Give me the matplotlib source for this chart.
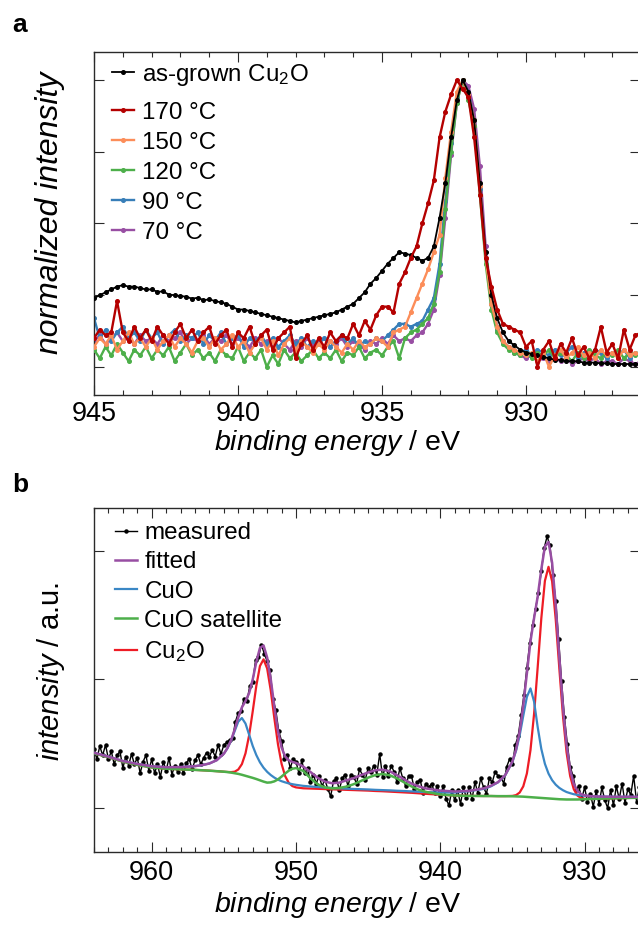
import numpy as np
import matplotlib
matplotlib.use("Agg")
import matplotlib.pyplot as plt
from matplotlib.ticker import MultipleLocator

plt.rcParams['font.family'] = ['Liberation Sans', 'DejaVu Sans']
plt.rcParams['mathtext.fontset'] = 'custom'
plt.rcParams['mathtext.rm'] = 'Liberation Sans'
plt.rcParams['mathtext.it'] = 'Liberation Sans:italic'
plt.rcParams['mathtext.bf'] = 'Liberation Sans:bold'

# ---------------- panel a data (normalized Cu 2p3/2), 945.0 eV downwards, 0.2 eV step
a_start = 945.0
a_step = 0.2
as_grown = [
    0.24, 0.25, 0.26, 0.27, 0.28, 0.285, 0.28, 0.28, 0.275, 0.27,
    0.27, 0.262, 0.263, 0.252, 0.25, 0.247, 0.245, 0.238, 0.241, 0.233,
    0.235, 0.23, 0.225, 0.22, 0.21, 0.20, 0.20, 0.195, 0.19, 0.185,
    0.18, 0.175, 0.17, 0.165, 0.16, 0.155, 0.16, 0.165, 0.17, 0.175,
    0.18, 0.185, 0.19, 0.20, 0.21, 0.22, 0.24, 0.26, 0.29, 0.31,
    0.335, 0.36, 0.38, 0.40, 0.395, 0.39, 0.38, 0.37, 0.38, 0.42,
    0.52, 0.64, 0.80, 0.93, 1.0, 0.96, 0.86, 0.64, 0.40, 0.25,
    0.17, 0.12, 0.09, 0.075, 0.06, 0.05, 0.045, 0.04, 0.035, 0.03,
    0.025, 0.025, 0.02, 0.02, 0.02, 0.015, 0.015, 0.015, 0.012, 0.012,
    0.01, 0.01, 0.01, 0.01, 0.01, 0.01]
t170 = [
    0.10, 0.13, 0.11, 0.12, 0.23, 0.12, 0.09, 0.14, 0.10, 0.13,
    0.09, 0.14, 0.11, 0.08, 0.12, 0.15, 0.10, 0.13, 0.09, 0.12,
    0.14, 0.08, 0.11, 0.13, 0.07, 0.12, 0.10, 0.14, 0.08, 0.11,
    0.13, 0.06, 0.10, 0.12, 0.14, 0.03, 0.08, 0.11, 0.06, 0.10,
    0.07, 0.12, 0.09, 0.11, 0.10, 0.15, 0.11, 0.16, 0.13, 0.18,
    0.21, 0.21, 0.19, 0.29, 0.33, 0.38, 0.42, 0.50, 0.57, 0.65,
    0.80, 0.89, 0.95, 1.0, 0.97, 0.94, 0.80, 0.60, 0.38, 0.28,
    0.20, 0.15, 0.14, 0.13, 0.12, 0.07, 0.09, 0.00, 0.06, 0.09,
    0.03, 0.08, 0.05, 0.10, 0.04, 0.07, 0.03, 0.06, 0.14, 0.05,
    0.08, 0.03, 0.13, 0.06, 0.11, 0.12]
t150 = [
    0.07, 0.10, 0.08, 0.11, 0.06, 0.09, 0.12, 0.08, 0.10, 0.07,
    0.10, 0.06, 0.09, 0.11, 0.07, 0.10, 0.08, 0.05, 0.09, 0.10,
    0.07, 0.10, 0.06, 0.08, 0.11, 0.07, 0.09, 0.05, 0.08, 0.10,
    0.06, 0.09, 0.04, 0.08, 0.10, 0.06, 0.09, 0.07, 0.05, 0.08,
    0.06, 0.09, 0.07, 0.05, 0.08, 0.06, 0.09, 0.07, 0.08, 0.10,
    0.09, 0.07, 0.12, 0.13, 0.14, 0.19, 0.24, 0.29, 0.34, 0.40,
    0.46, 0.66, 0.82, 0.96, 1.0, 0.95, 0.86, 0.63, 0.38, 0.22,
    0.14, 0.09, 0.07, 0.06, 0.05, 0.04, 0.05, 0.02, 0.05, 0.00,
    0.04, 0.06, 0.03, 0.05, 0.07, 0.04, 0.05, 0.03, 0.06, 0.04,
    0.05, 0.03, 0.06, 0.04, 0.05, 0.04]
t120 = [
    0.06, 0.03, 0.07, 0.04, 0.08, 0.05, 0.02, 0.06, 0.04, 0.07,
    0.03, 0.06, 0.04, 0.07, 0.02, 0.05, 0.08, 0.04, 0.06, 0.03,
    0.05, 0.02, 0.06, 0.04, 0.03, 0.07, 0.02, 0.05, 0.03, 0.06,
    0.00, 0.04, 0.01, 0.06, 0.03, 0.05, 0.02, 0.04, 0.06, 0.03,
    0.05, 0.03, 0.06, 0.02, 0.05, 0.04, 0.07, 0.03, 0.05, 0.06,
    0.04, 0.07, 0.09, 0.03, 0.10, 0.12, 0.13, 0.15, 0.17, 0.22,
    0.33, 0.55, 0.75, 0.92, 1.0, 0.93, 0.84, 0.60, 0.36, 0.20,
    0.12, 0.08, 0.06, 0.05, 0.04, 0.05, 0.03, 0.05, 0.04, 0.06,
    0.03, 0.05, 0.04, 0.02, 0.05, 0.03, 0.06, 0.04, 0.03, 0.05,
    0.04, 0.06, 0.03, 0.05, 0.04, 0.06]
t90 = [
    0.17, 0.10, 0.13, 0.09, 0.12, 0.14, 0.10, 0.12, 0.09, 0.13,
    0.10, 0.12, 0.08, 0.11, 0.13, 0.09, 0.11, 0.10, 0.12, 0.08,
    0.11, 0.09, 0.12, 0.08, 0.10, 0.11, 0.07, 0.10, 0.09, 0.11,
    0.08, 0.10, 0.07, 0.09, 0.11, 0.08, 0.10, 0.07, 0.09, 0.08,
    0.10, 0.07, 0.09, 0.11, 0.08, 0.10, 0.07, 0.09, 0.08, 0.10,
    0.09, 0.11, 0.13, 0.15, 0.15, 0.14, 0.15, 0.16, 0.20, 0.24,
    0.36, 0.58, 0.78, 0.94, 1.0, 0.96, 0.86, 0.62, 0.38, 0.22,
    0.13, 0.09, 0.07, 0.06, 0.05, 0.06, 0.04, 0.06, 0.05, 0.04,
    0.06, 0.04, 0.05, 0.07, 0.03, 0.05, 0.04, 0.06, 0.05, 0.03,
    0.05, 0.04, 0.06, 0.03, 0.05, 0.04]
t70 = [
    0.09, 0.11, 0.08, 0.10, 0.12, 0.09, 0.10, 0.08, 0.11, 0.09,
    0.10, 0.08, 0.11, 0.09, 0.10, 0.12, 0.08, 0.10, 0.09, 0.11,
    0.08, 0.10, 0.09, 0.11, 0.08, 0.10, 0.09, 0.07, 0.10, 0.08,
    0.09, 0.07, 0.10, 0.08, 0.06, 0.09, 0.07, 0.10, 0.08, 0.09,
    0.07, 0.09, 0.08, 0.10, 0.07, 0.09, 0.08, 0.06, 0.09, 0.08,
    0.10, 0.08, 0.11, 0.09, 0.10, 0.09, 0.11, 0.12, 0.15, 0.20,
    0.32, 0.52, 0.74, 0.92, 1.0, 0.98, 0.90, 0.70, 0.42, 0.24,
    0.14, 0.09, 0.07, 0.05, 0.04, 0.03, 0.04, 0.02, 0.03, 0.02,
    0.03, 0.02, 0.03, 0.01, 0.02, 0.03, 0.02, 0.03, 0.01, 0.02,
    0.02, 0.01, 0.03, 0.02, 0.01, 0.02]

a_labels = ['as-grown Cu$_2$O', '170 °C', '150 °C', '120 °C', '90 °C', '70 °C']
a_colors = ['#000000', '#b40000', '#fc8d59', '#4daf4a', '#377eb8', '#984ea3']

# ---------------- panel b data (Cu 2p), measured: 964.0 eV downwards, 0.2 eV step
b_start = 964.0
b_step = 0.2
measured = [
    0.46, 0.38, 0.48, 0.41, 0.49, 0.38, 0.44, 0.34, 0.41, 0.44,
    0.31, 0.40, 0.33, 0.42, 0.34, 0.39, 0.27, 0.36, 0.41, 0.29,
    0.38, 0.27, 0.34, 0.24, 0.36, 0.29, 0.39, 0.26, 0.33, 0.28,
    0.34, 0.27, 0.35, 0.38, 0.30, 0.37, 0.41, 0.34, 0.39, 0.43,
    0.40, 0.45, 0.40, 0.49, 0.42, 0.49, 0.51, 0.53, 0.54, 0.67,
    0.74, 0.75, 0.85, 0.83, 0.95, 0.98, 1.15, 1.17, 1.27, 1.20,
    1.14, 1.07, 0.85, 0.76, 0.60, 0.52, 0.38, 0.41, 0.31, 0.38,
    0.36, 0.27, 0.37, 0.27, 0.31, 0.20, 0.26, 0.19, 0.25, 0.17,
    0.22, 0.15, 0.09, 0.21, 0.23, 0.14, 0.23, 0.26, 0.17, 0.26,
    0.24, 0.19, 0.30, 0.26, 0.22, 0.31, 0.28, 0.33, 0.26, 0.42,
    0.24, 0.33, 0.25, 0.33, 0.28, 0.20, 0.31, 0.23, 0.17, 0.25,
    0.25, 0.15, 0.20, 0.22, 0.12, 0.19, 0.16, 0.19, 0.12, 0.17,
    0.09, 0.17, 0.07, 0.02, 0.14, 0.06, 0.14, 0.03, 0.16, 0.08,
    0.16, 0.07, 0.20, 0.12, 0.23, 0.16, 0.11, 0.23, 0.20, 0.28,
    0.25, 0.24, 0.19, 0.32, 0.38, 0.34, 0.49, 0.56, 0.72, 0.88,
    1.09, 1.28, 1.42, 1.55, 1.67, 1.84, 2.02, 2.11, 2.04, 1.81,
    1.61, 1.31, 0.99, 0.71, 0.50, 0.32, 0.25, 0.14, 0.17, 0.07,
    0.16, 0.05, 0.11, 0.01, 0.13, 0.03, 0.16, 0.06, 0.00, 0.14,
    0.02, 0.17, 0.07, 0.19, 0.04, 0.15, 0.10, 0.25, 0.05, 0.16]

fit_energy = [
    964, 963, 962, 961, 960, 959, 958, 957,
    956.5, 956, 955.5, 955, 954.75, 954.5, 954.25,
    954, 953.75, 953.5, 953.25, 953, 952.75, 952.5, 952.25,
    952, 951.75, 951.5, 951.25, 951, 950.75, 950.5, 950.25,
    950, 949.5, 949, 948.5, 948, 947.5, 947, 946.5,
    946, 945.5, 945, 944.5, 944, 943.5, 943, 942.5,
    942, 941.5, 941, 940, 939, 938, 937, 936.5,
    936, 935.5, 935, 934.75, 934.5, 934.25,
    934, 933.75, 933.5, 933.25, 933, 932.75, 932.5, 932.25,
    932, 931.75, 931.5, 931.25, 931, 930.75, 930.5, 930.25,
    930, 929.5, 929, 928, 927, 926]
fitted = [
    0.429, 0.399, 0.365, 0.342, 0.324, 0.317, 0.318, 0.325,
    0.333, 0.346, 0.371, 0.422, 0.466, 0.527, 0.61,
    0.705, 0.782, 0.831, 0.892, 0.999, 1.136, 1.243, 1.263,
    1.169, 1.0, 0.787, 0.60, 0.47, 0.40, 0.37, 0.358,
    0.35, 0.322, 0.28, 0.235, 0.205, 0.192, 0.197, 0.215,
    0.232, 0.255, 0.276, 0.293, 0.298, 0.285, 0.255, 0.222,
    0.19, 0.168, 0.152, 0.135, 0.128, 0.133, 0.152, 0.172,
    0.201, 0.256, 0.362, 0.455, 0.595, 0.796,
    1.045, 1.295, 1.476, 1.643, 1.854, 2.032, 2.067, 1.905,
    1.576, 1.171, 0.788, 0.49, 0.297, 0.187, 0.133, 0.108,
    0.098, 0.091, 0.089, 0.087, 0.087, 0.086]
cuo = [
    0.429, 0.399, 0.365, 0.342, 0.324, 0.317, 0.318, 0.325,
    0.333, 0.346, 0.371, 0.422, 0.465, 0.523, 0.598,
    0.671, 0.699, 0.656, 0.570, 0.482, 0.411, 0.355, 0.313,
    0.281, 0.256, 0.236, 0.22, 0.208, 0.199, 0.191, 0.185,
    0.18, 0.172, 0.167, 0.163, 0.159, 0.156, 0.153, 0.15,
    0.148, 0.146, 0.144, 0.141, 0.139, 0.137, 0.134, 0.132,
    0.129, 0.126, 0.124, 0.12, 0.12, 0.131, 0.148, 0.168,
    0.199, 0.254, 0.359, 0.445, 0.564, 0.716,
    0.863, 0.929, 0.826, 0.628, 0.459, 0.343, 0.267, 0.216,
    0.181, 0.156, 0.138, 0.124, 0.115, 0.107, 0.102, 0.098,
    0.095, 0.091, 0.089, 0.087, 0.087, 0.086]
cuo_sat = [
    0.425, 0.395, 0.36, 0.335, 0.315, 0.305, 0.30, 0.296,
    0.293, 0.29, 0.286, 0.282, 0.279, 0.275, 0.27,
    0.265, 0.258, 0.25, 0.242, 0.234, 0.225, 0.215, 0.205,
    0.197, 0.199, 0.207, 0.222, 0.244, 0.268, 0.29, 0.305,
    0.31, 0.288, 0.231, 0.184, 0.16, 0.152, 0.156, 0.166,
    0.185, 0.21, 0.236, 0.256, 0.264, 0.254, 0.230, 0.199,
    0.168, 0.142, 0.125, 0.105, 0.097, 0.094, 0.093, 0.093,
    0.092, 0.092, 0.091, 0.09, 0.089, 0.088,
    0.086, 0.084, 0.082, 0.08, 0.078, 0.076, 0.074, 0.072,
    0.07, 0.068, 0.067, 0.066, 0.066, 0.066, 0.066, 0.067,
    0.068, 0.07, 0.072, 0.075, 0.078, 0.08]
cu2o = [
    0.425, 0.395, 0.36, 0.335, 0.315, 0.305, 0.30, 0.296,
    0.293, 0.29, 0.286, 0.282, 0.28, 0.279, 0.282,
    0.299, 0.341, 0.425, 0.564, 0.751, 0.95, 1.103, 1.155,
    1.084, 0.913, 0.697, 0.495, 0.343, 0.247, 0.195, 0.17,
    0.16, 0.153, 0.151, 0.149, 0.147, 0.145, 0.143, 0.141,
    0.139, 0.137, 0.135, 0.132, 0.13, 0.127, 0.124, 0.121,
    0.118, 0.114, 0.11, 0.103, 0.097, 0.094, 0.093, 0.093,
    0.092, 0.092, 0.094, 0.10, 0.12, 0.168,
    0.268, 0.45, 0.732, 1.095, 1.473, 1.765, 1.874, 1.761,
    1.465, 1.083, 0.717, 0.432, 0.248, 0.146, 0.097, 0.077,
    0.071, 0.07, 0.072, 0.075, 0.078, 0.08]

b_labels = ['measured', 'fitted', 'CuO', 'CuO satellite', 'Cu$_2$O']
b_colors = ['#000000', '#984ea3', '#3a87c5', '#4daf4a', '#ee1c25']

# ---------------- figure
W, H = 638, 926
fig = plt.figure(figsize=(W / 100, H / 100), dpi=100)
axa = fig.add_axes([94 / W, 1 - 395 / H, 546 / W, 343 / H])
axb = fig.add_axes([94 / W, 1 - 852 / H, 546 / W, 344 / H])

spine_col = '#2a2a2a'
for ax in (axa, axb):
    for s in ax.spines.values():
        s.set_linewidth(1.0)
        s.set_color(spine_col)
    ax.tick_params(axis='both', which='both', direction='in', top=True, right=True,
                   labelleft=False, color=spine_col, width=0.8)
    ax.tick_params(axis='both', which='major', length=7)
    ax.tick_params(axis='both', which='minor', length=3.5)
    ax.tick_params(axis='x', labelsize=19.5)

# panel a
series_a = [as_grown, t170, t150, t120, t90, t70]
zorders = [5, 6, 4, 3, 2, 1]
handles = []
for vals, lab, col, z in zip(series_a, a_labels, a_colors, zorders):
    e = a_start - a_step * np.arange(len(vals))
    lw = 1.3 if col == '#000000' else 1.7
    h, = axa.plot(e, vals, '-', color=col, lw=lw, marker='o', ms=2.6, mec=col, mfc=col,
                  label=lab, zorder=z)
    handles.append(h)
axa.set_xlim(945, 926.04)
axa.set_ylim(-0.098, 1.098)
axa.xaxis.set_major_locator(MultipleLocator(5))
axa.xaxis.set_minor_locator(MultipleLocator(1))
axa.yaxis.set_major_locator(MultipleLocator(0.25))
axa.tick_params(axis='x', pad=4)
axa.set_xlabel(r'$\it{binding\ energy}$ / eV', fontsize=20.5)
axa.xaxis.set_label_coords(0.446, -0.096)
axa.xaxis.label.set_va('top')
axa.set_ylabel('normalized intensity', fontsize=23, style='italic')
axa.yaxis.set_label_coords(-0.054, 0.53)
leg_kw = dict(loc='upper left', frameon=False, borderpad=0, borderaxespad=0,
              handlelength=0.93, handletextpad=0.3)
leg1 = axa.legend(handles=handles[:1], bbox_to_anchor=(0.033, 0.971),
                  labelspacing=0.25, fontsize=17.4, **leg_kw)
axa.add_artist(leg1)
axa.legend(handles=handles[1:], bbox_to_anchor=(0.033, 0.855),
           labelspacing=0.33, fontsize=17.4, **leg_kw)

# panel b
e_meas = b_start - b_step * np.arange(len(measured))
hm, = axb.plot(e_meas, measured, '-', color='k', lw=1.0, marker='o', ms=2.2, zorder=1)
hr, = axb.plot(fit_energy, cu2o, '-', color=b_colors[4], lw=1.6, zorder=2)
hb, = axb.plot(fit_energy, cuo, '-', color=b_colors[2], lw=1.6, zorder=3)
hg, = axb.plot(fit_energy, cuo_sat, '-', color=b_colors[3], lw=1.8, zorder=4)
hp, = axb.plot(fit_energy, fitted, '-', color=b_colors[1], lw=1.8, zorder=5)
axb.set_xlim(964, 926.16)
axb.set_ylim(-0.342, 2.331)
axb.xaxis.set_major_locator(MultipleLocator(10))
axb.xaxis.set_minor_locator(MultipleLocator(1))
axb.yaxis.set_major_locator(MultipleLocator(1))
axb.tick_params(axis='x', pad=6)
axb.set_xlabel(r'$\it{binding\ energy}$ / eV', fontsize=20.5)
axb.xaxis.set_label_coords(0.446, -0.11)
axb.xaxis.label.set_va('top')
axb.set_ylabel(r'$\it{intensity}$ / a.u.', fontsize=21)
axb.yaxis.set_label_coords(-0.05, 0.526)
axb.legend(handles=[hm, hp, hb, hg, hr], labels=b_labels, bbox_to_anchor=(0.038, 0.959),
           labelspacing=0.3, fontsize=17.4, **leg_kw)

fig.text(12 / W, 1 - 32 / H, 'a', fontsize=19, fontweight='bold', ha='left', va='baseline')
fig.text(12 / W, 1 - 492 / H, 'b', fontsize=19, fontweight='bold', ha='left', va='baseline')

fig.savefig('out.png', dpi=100)
